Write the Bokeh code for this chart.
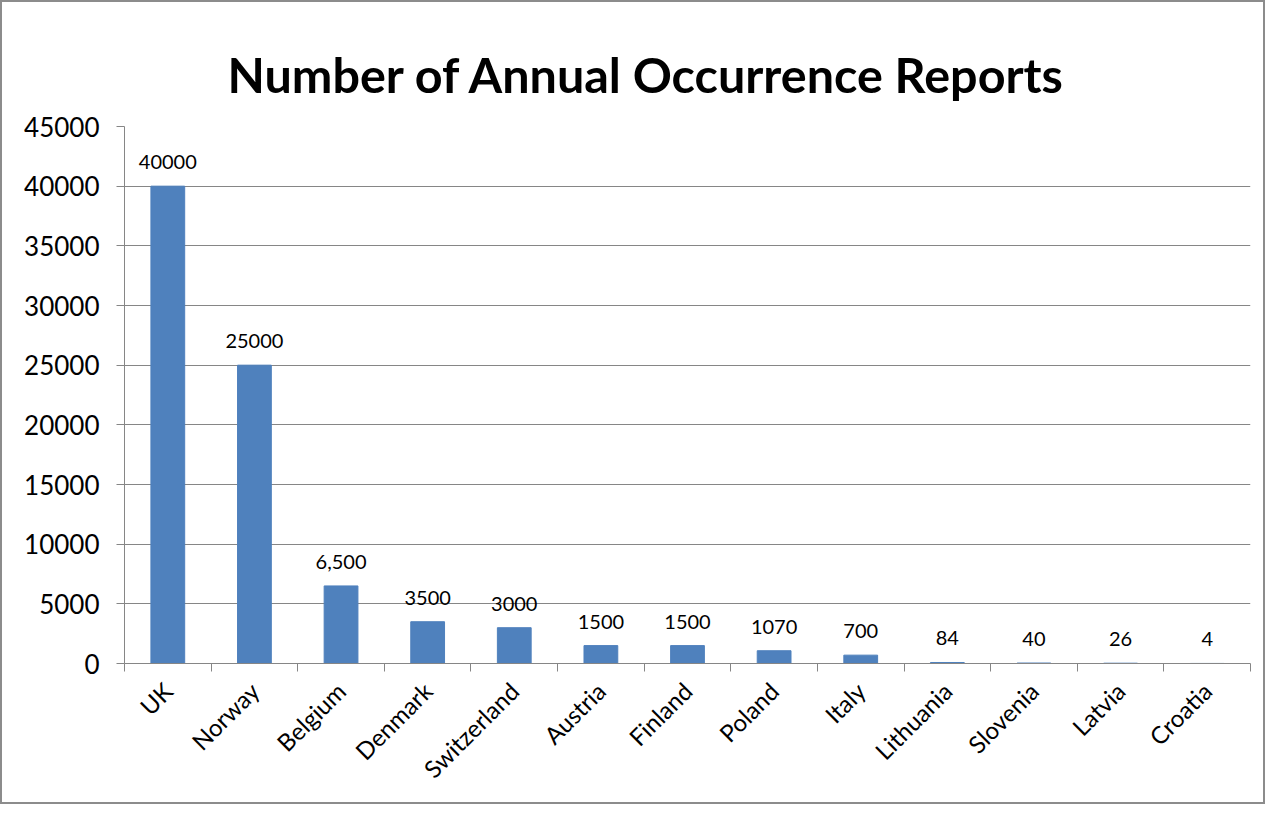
import math
import numpy as np
from bokeh.plotting import figure
from bokeh.models import ColumnDataSource, FixedTicker, Range1d
from bokeh.core.properties import value
from bokeh.embed import file_html
from bokeh.resources import INLINE

countries = ["UK", "Norway", "Belgium", "Denmark", "Switzerland", "Austria", "Finland",
             "Poland", "Italy", "Lithuania", "Slovenia", "Latvia", "Croatia"]
reports = [40000, 25000, 6500, 3500, 3000, 1500, 1500, 1070, 700, 84, 40, 26, 4]
report_labels = ["40000", "25000", "6,500", "3500", "3000", "1500", "1500", "1070", "700",
                 "84", "40", "26", "4"]
y_ticks = [0, 5000, 10000, 15000, 20000, 25000, 30000, 35000, 40000, 45000]
title_text = "Number of Annual Occurrence Reports"

FONT = "Lato"
GRAY = "#868686"
W, H = 1265, 804

centers = [i + 0.5 for i in range(len(countries))]
src = ColumnDataSource(dict(x=centers, top=reports, lab=report_labels))

p = figure(width=W, height=H, output_backend="svg", toolbar_location=None,
           x_range=Range1d(0, len(countries)), y_range=Range1d(0, 45000),
           min_border_left=122, min_border_right=W - 1248, min_border_top=124,
           min_border_bottom=H - 661, title=title_text)
p.styles = {"border": "2px solid #8c8c8c"}

p.title.text_font = FONT
p.title.text_font_size = "48.5px"
p.title.text_font_style = "bold"
p.title.align = "left"
p.title.offset = 103
p.title.text_color = "black"
p.title.vertical_align = "top"
p.title.standoff = 44

p.outline_line_color = None
p.background_fill_color = "white"
p.border_fill_color = "white"

p.vbar(x="x", top="top", width=0.39, source=src, fill_color="#4F81BD", line_color="#4F81BD")
p.text(x="x", y="top", text="lab", source=src, text_align="center", text_baseline="bottom",
       y_offset=-17, text_font=value(FONT), text_font_size="20px", text_color="black")

# x axis
p.xaxis.ticker = FixedTicker(ticks=centers, minor_ticks=list(range(len(countries) + 1)))
p.xaxis.major_label_overrides = {c: n for c, n in zip(centers, countries)}
p.xaxis.major_label_orientation = math.pi / 4
p.xaxis.major_tick_out = 0
p.xaxis.major_tick_in = 0
p.xaxis.minor_tick_out = 8
p.xaxis.minor_tick_in = 0
p.xaxis.minor_tick_line_color = GRAY
p.xaxis.axis_line_color = GRAY
p.xaxis.major_label_text_font = FONT
p.xaxis.major_label_text_font_size = "24px"
p.xaxis.major_label_text_color = "black"
p.xaxis.major_label_standoff = 15
p.xgrid.grid_line_color = None

# y axis
p.yaxis.ticker = FixedTicker(ticks=y_ticks)
p.yaxis.formatter.use_scientific = False
p.yaxis.major_tick_out = 8
p.yaxis.major_tick_in = 0
p.yaxis.minor_tick_line_color = None
p.yaxis.major_tick_line_color = GRAY
p.yaxis.axis_line_color = GRAY
p.yaxis.major_label_text_font = FONT
p.yaxis.major_label_text_font_size = "26px"
p.yaxis.major_label_text_color = "black"
p.yaxis.major_label_standoff = 17
p.ygrid.grid_line_color = GRAY
p.ygrid.ticker = FixedTicker(ticks=y_ticks)

open("out.html", "w").write(file_html(p, INLINE))
